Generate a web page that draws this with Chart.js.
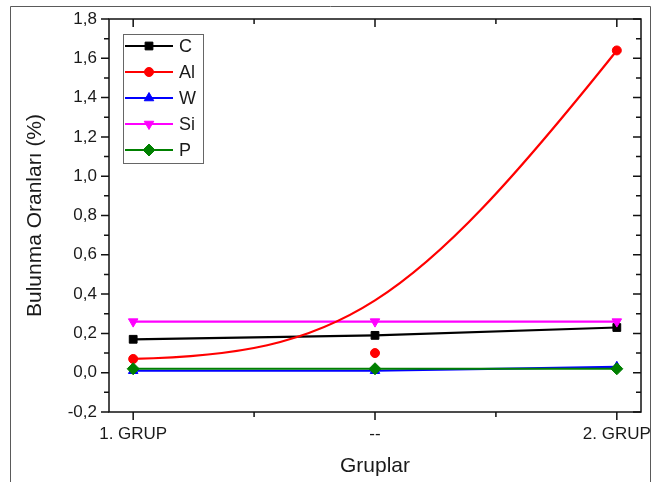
<!DOCTYPE html>
<html><head><meta charset="utf-8">
<script src="https://cdn.jsdelivr.net/npm/chart.js@4/dist/chart.umd.min.js"></script>
<style>html,body{margin:0;padding:0;background:#fff}canvas{display:block}</style>
</head><body>
<canvas id="c" width="651" height="482"></canvas>
<script>
// ---- data ----
const CATEGORIES = ['1. GRUP', '--', '2. GRUP'];
const SERIES_NAMES = ['C', 'Al', 'W', 'Si', 'P'];
const C_VALUES  = [0.17, 0.19, 0.23];
const AL_VALUES = [0.07, 0.10, 1.64];
const W_VALUES  = [0.01, 0.01, 0.03];
const SI_VALUES = [0.26, 0.26, 0.26];
const P_VALUES  = [0.02, 0.02, 0.02];
const Y_TICKS = [-0.2, 0, 0.2, 0.4, 0.6, 0.8, 1.0, 1.2, 1.4, 1.6, 1.8];
const X_TITLE = 'Gruplar';
const Y_TITLE = 'Bulunma Oranları (%)';

// ---- styles ----
const FONT = "'Liberation Sans', Arial, sans-serif";
const TEXT = '#1a1a1a';
const STYLES = [
  {color: '#000000', pointStyle: 'rect', radius: 5.5, rotation: 0, order: 5},
  {color: '#ff0000', pointStyle: 'circle', radius: 4.5, rotation: 0, order: 4},
  {color: '#0000ff', pointStyle: 'triangle', radius: 5.5, rotation: 0, order: 3},
  {color: '#ff00ff', pointStyle: 'triangle', radius: 5.5, rotation: 180, order: 2},
  {color: '#008000', pointStyle: 'rectRot', radius: 6, rotation: 0, order: 1}
];
const SERIES_VALUES = [C_VALUES, AL_VALUES, W_VALUES, SI_VALUES, P_VALUES];
const SPLINE_INDEX = 1;      // Al is drawn as a B-spline (Origin style)
const SPLINE_WEIGHT = 0.86;  // pull of middle control point

const toXY = vals => vals.map((v, i) => ({x: i, y: v}));
const fmtY = v => (Math.round(v * 10) / 10).toFixed(1).replace('.', ',');

const datasets = SERIES_NAMES.map((name, i) => ({
  label: name,
  data: toXY(SERIES_VALUES[i]),
  borderColor: STYLES[i].color,
  backgroundColor: STYLES[i].color,
  borderWidth: 2.2,
  pointStyle: STYLES[i].pointStyle,
  pointRadius: STYLES[i].radius,
  pointRotation: STYLES[i].rotation,
  pointBorderWidth: 1,
  showLine: i !== SPLINE_INDEX,
  order: STYLES[i].order,
  tension: 0
}));

const outerBorder = {
  id: 'outerBorder',
  beforeDraw(chart) {
    const ctx = chart.ctx;
    ctx.save();
    ctx.fillStyle = '#fff';
    ctx.fillRect(0, 0, chart.width, chart.height);
    ctx.strokeStyle = '#5a5a5a';
    ctx.lineWidth = 1;
    ctx.beginPath();
    ctx.moveTo(10.5, chart.height);
    ctx.lineTo(10.5, 6.5);
    ctx.lineTo(650.5, 6.5);
    ctx.lineTo(650.5, chart.height);
    ctx.stroke();
    ctx.restore();
  }
};

const splineLine = {
  id: 'splineLine',
  afterDatasetsDraw(chart) {
    const meta = chart.getDatasetMeta(SPLINE_INDEX);
    const p = meta.data;
    if (p.length < 3) return;
    const ctx = chart.ctx, a = chart.chartArea, k = SPLINE_WEIGHT;
    ctx.save();
    ctx.beginPath();
    ctx.rect(a.left, a.top, a.right - a.left, a.bottom - a.top);
    ctx.clip();
    ctx.strokeStyle = STYLES[SPLINE_INDEX].color;
    ctx.lineWidth = 2.2;
    ctx.beginPath();
    ctx.moveTo(p[0].x, p[0].y);
    ctx.bezierCurveTo(
      p[0].x + k * (p[1].x - p[0].x), p[0].y + k * (p[1].y - p[0].y),
      p[2].x + k * (p[1].x - p[2].x), p[2].y + k * (p[1].y - p[2].y),
      p[2].x, p[2].y);
    ctx.stroke();
    ctx.restore();
  }
};

const frameTicks = {
  id: 'frameTicks',
  afterDraw(chart) {
    const ctx = chart.ctx, a = chart.chartArea;
    const xs = chart.scales.x, ys = chart.scales.y;
    const MAJ = 8, MIN = 5;
    ctx.save();
    ctx.strokeStyle = '#111';
    ctx.lineWidth = 1.5;
    ctx.strokeRect(a.left, a.top, a.right - a.left, a.bottom - a.top);
    ctx.beginPath();
    CATEGORIES.forEach((c, i) => {
      const px = xs.getPixelForValue(i);
      ctx.moveTo(px, a.bottom); ctx.lineTo(px, a.bottom + MAJ);
      ctx.moveTo(px, a.top); ctx.lineTo(px, a.top + MAJ);
      if (i < CATEGORIES.length - 1) {
        const mx = xs.getPixelForValue(i + 0.5);
        ctx.moveTo(mx, a.bottom); ctx.lineTo(mx, a.bottom + MIN);
        ctx.moveTo(mx, a.top); ctx.lineTo(mx, a.top + MIN);
      }
    });
    Y_TICKS.forEach((v, i) => {
      const py = ys.getPixelForValue(v);
      ctx.moveTo(a.left, py); ctx.lineTo(a.left - MAJ, py);
      ctx.moveTo(a.right, py); ctx.lineTo(a.right - MAJ, py);
      if (i < Y_TICKS.length - 1) {
        const my = ys.getPixelForValue((v + Y_TICKS[i + 1]) / 2);
        ctx.moveTo(a.left, my); ctx.lineTo(a.left - MIN, my);
        ctx.moveTo(a.right, my); ctx.lineTo(a.right - MIN, my);
      }
    });
    ctx.stroke();
    ctx.restore();
  }
};

const boxLegend = {
  id: 'boxLegend',
  afterDraw(chart) {
    const ctx = chart.ctx;
    const left = 123, top = 34, w = 80, h = 129, rowH = 26, firstY = 46;
    ctx.save();
    ctx.fillStyle = '#fff';
    ctx.fillRect(left, top, w, h);
    ctx.strokeStyle = '#666';
    ctx.lineWidth = 1;
    ctx.strokeRect(left + 0.5, top + 0.5, w, h);
    SERIES_NAMES.forEach((name, i) => {
      const y = firstY + i * rowH;
      const st = STYLES[i];
      ctx.strokeStyle = st.color;
      ctx.fillStyle = st.color;
      ctx.lineWidth = 2.2;
      ctx.beginPath();
      ctx.moveTo(125, y); ctx.lineTo(173, y);
      ctx.stroke();
      ctx.lineWidth = 1;
      Chart.helpers.drawPoint(ctx, {pointStyle: st.pointStyle, radius: st.radius, rotation: st.rotation, borderWidth: 1}, 149, y);
      ctx.fillStyle = TEXT;
      ctx.font = '18px ' + FONT;
      ctx.textAlign = 'left';
      ctx.textBaseline = 'middle';
      ctx.fillText(name, 179, y + 1);
    });
    ctx.restore();
  }
};

new Chart(document.getElementById('c'), {
  type: 'line',
  data: {datasets},
  plugins: [outerBorder, splineLine, frameTicks, boxLegend],
  options: {
    responsive: false,
    devicePixelRatio: 1,
    animation: false,
    layout: {padding: {left: 0, top: 19, right: 10, bottom: 0}},
    plugins: {legend: {display: false}, tooltip: {enabled: false}},
    scales: {
      x: {
        type: 'linear',
        min: -0.1, max: 2.1,
        afterBuildTicks: s => { s.ticks = CATEGORIES.map((c, i) => ({value: i})); },
        afterFit: s => { s.height = 70; s.paddingLeft = 0; s.paddingRight = 0; },
        grid: {display: false, drawTicks: false},
        border: {display: false},
        ticks: {
          padding: 12, maxRotation: 0, autoSkip: false,
          color: TEXT, font: {family: FONT, size: 17},
          callback: v => CATEGORIES[Math.round(v)]
        },
        title: {display: true, text: X_TITLE, color: TEXT, font: {family: FONT, size: 21}, padding: {top: 0, bottom: 3}}
      },
      y: {
        type: 'linear',
        min: -0.2, max: 1.8,
        afterBuildTicks: s => { s.ticks = Y_TICKS.map(v => ({value: v})); },
        afterFit: s => { s.width = 109; s.paddingTop = 0; s.paddingBottom = 0; },
        grid: {display: false, drawTicks: false},
        border: {display: false},
        ticks: {padding: 12, color: TEXT, font: {family: FONT, size: 17}, callback: v => fmtY(v)},
        title: {display: true, text: Y_TITLE, color: TEXT, font: {family: FONT, size: 21}, padding: {top: 23, bottom: 0}}
      }
    }
  }
});
</script>
</body></html>
